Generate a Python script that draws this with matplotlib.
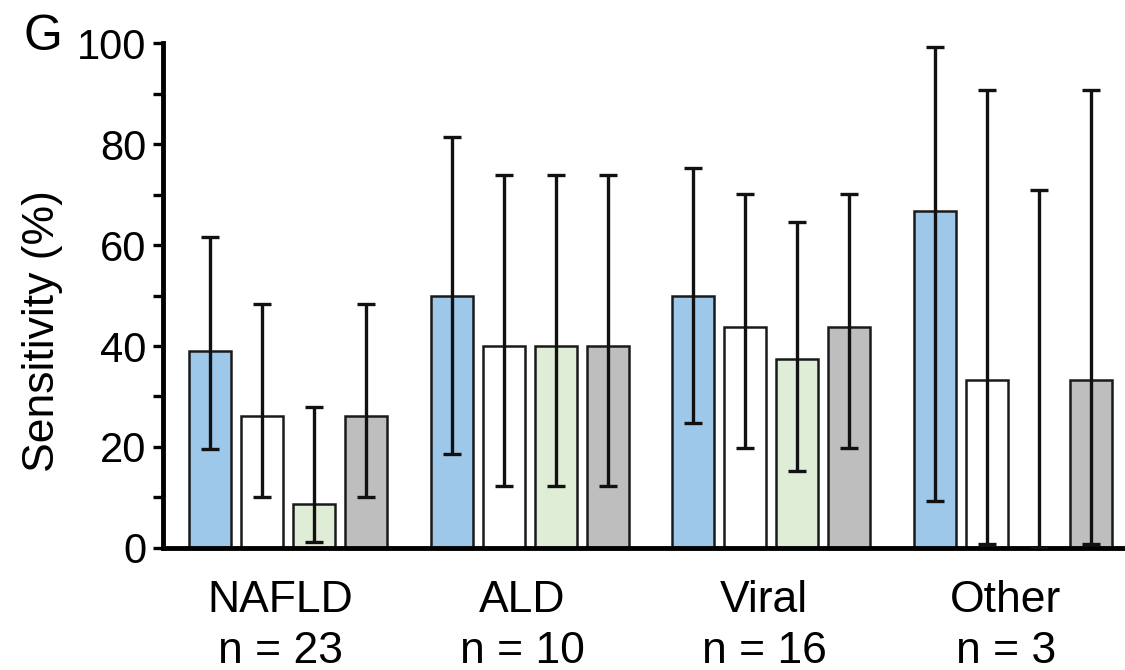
import numpy as np
import matplotlib
matplotlib.use('Agg')
from matplotlib import pyplot as plt

plt.rcParams['font.family'] = ['Liberation Sans', 'DejaVu Sans']

groups = ['NAFLD\nn = 23', 'ALD\nn = 10', 'Viral\nn = 16', 'Other\nn = 3']

# sensitivity (%) per group, one list per series
blue = [39.1, 50.0, 50.0, 66.7]
white = [26.1, 40.0, 43.75, 33.3]
green = [8.7, 40.0, 37.5, 0.0]
gray = [26.1, 40.0, 43.75, 33.3]

# confidence interval bounds
blue_lo = [19.7, 18.7, 24.7, 9.4]
blue_hi = [61.5, 81.3, 75.3, 99.2]
white_lo = [10.0, 12.2, 19.8, 0.8]
white_hi = [48.4, 73.8, 70.1, 90.6]
green_lo = [1.1, 12.2, 15.2, 0.0]
green_hi = [28.0, 73.8, 64.6, 70.8]
gray_lo = [10.0, 12.2, 19.8, 0.8]
gray_hi = [48.4, 73.8, 70.1, 90.6]

series = [
    (blue, blue_lo, blue_hi, '#9dc8ea'),
    (white, white_lo, white_hi, '#ffffff'),
    (green, green_lo, green_hi, '#e0edd6'),
    (gray, gray_lo, gray_hi, '#bebebe'),
]

fig = plt.figure(figsize=(11.25, 6.7), dpi=100)
ax = fig.add_axes([0.1449, 0.1821, 0.8551, 0.7537])

x = np.arange(len(groups))
pitch = 0.215
width = 0.174
for i, (vals, lo, hi, col) in enumerate(series):
    xs = x + (i - 1.5) * pitch
    vals = np.array(vals)
    yerr = [vals - np.array(lo), np.array(hi) - vals]
    ax.bar(xs, vals, width, color=col, edgecolor='#1a1a1a', linewidth=1.8, zorder=2)
    ax.errorbar(xs, vals, yerr=yerr, fmt='none', ecolor='#111111',
                elinewidth=2.4, capsize=6.5, capthick=2.4, zorder=3)

ax.set_xlim(-0.517, 3.463)
ax.set_ylim(0, 100)
ax.set_yticks(np.arange(0, 101, 20))
ax.set_yticks(np.arange(10, 100, 20), minor=True)
ax.tick_params(axis='y', which='both', length=7, width=2.4, labelsize=30, pad=5)
ax.set_xticks(x - 0.03)
ax.set_xticklabels(groups, fontsize=32, linespacing=1.3)
ax.tick_params(axis='x', length=0, pad=23)

for s in ['top', 'right']:
    ax.spines[s].set_visible(False)
for s in ['left', 'bottom']:
    ax.spines[s].set_linewidth(3.5)

ax.set_ylabel('Sensitivity (%)', fontsize=32)
ax.yaxis.set_label_coords(-0.104, 0.43)

fig.text(0.021, 0.925, 'G', fontsize=36)

fig.savefig('out.png', dpi=100)
